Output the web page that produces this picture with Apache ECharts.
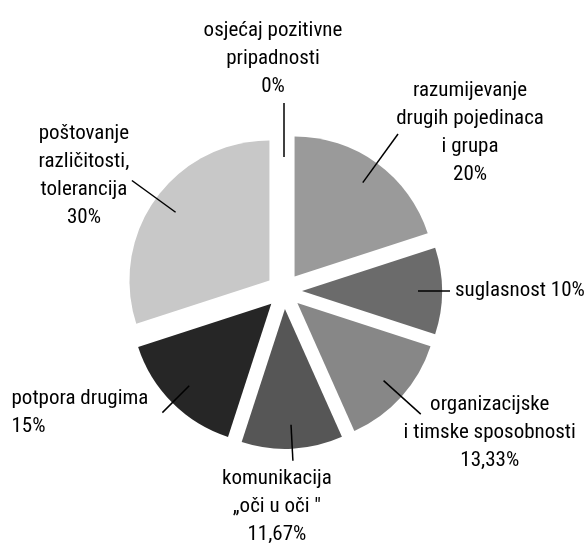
<!DOCTYPE html>
<html>
<head>
<meta charset="utf-8">
<script src="https://cdn.jsdelivr.net/npm/echarts@6/dist/echarts.min.js"></script>
<style>
	html, body { margin: 0; padding: 0; background: #fff; }
	#pie { width: 585px; height: 543px; }
</style>
</head>
<body>
<div id="pie"></div>
<script>
// podaci
var categories = [
	'osjećaj pozitivne\npripadnosti',
	'razumijevanje\ndrugih pojedinaca\ni grupa',
	'suglasnost',
	'organizacijske\ni timske sposobnosti',
	'komunikacija\n„oči u oči "',
	'potpora drugima',
	'poštovanje\nrazličitosti,\ntolerancija'
];
var values = [0, 20, 10, 13.33, 11.67, 15, 30];

// izgled
var colors = ['#b0b0b0', '#9a9a9a', '#6b6b6b', '#878787', '#565656', '#262626', '#c8c8c8'];
var separators = ['\n', '\n', ' ', '\n', '\n', '\n', '\n'];
var lineLength = [54, 60, 32, 50, 36, 38, 54];
// poravnanje i pomak teksta (padding: gore, desno, dolje, lijevo)
var labelAlign = [
	{ align: 'center', va: 'bottom', padding: [0, 12, 2, 0] },
	{ align: 'center', va: 'middle', padding: [0, 0, 2, 134] },
	{ align: 'left', va: 'middle', padding: [0, 0, 0, 0] },
	{ align: 'center', va: 'middle', padding: [38, 0, 0, 128] },
	{ align: 'center', va: 'top', padding: [4, 42, 0, 0] },
	{ align: 'right', va: 'middle', padding: [0, 9, 0, 0], rich: true },
	{ align: 'center', va: 'middle', padding: [0, 86, 9, 0] }
];

var FONT = '"Roboto Condensed", "DejaVu Sans Condensed", "Liberation Sans Narrow", "DejaVu Sans", sans-serif';
var FONT_SIZE = 21;

(function() {
	var pie = echarts.init(document.getElementById('pie'), null, { renderer: 'canvas' });

	function fmt(v) {
		return String(v).replace('.', ',') + '%';
	}

	var visible = [], holder = [];
	for (var i = 0; i < values.length; i++) {
		visible.push({ value: values[i], name: categories[i], selected: true, itemStyle: { color: colors[i] } });
		holder.push({
			value: values[i],
			name: categories[i],
			selected: true,
			labelLine: { length: lineLength[i] },
			label: { padding: labelAlign[i].padding }
		});
	}

	var center = [284, 291];

	var option = {
		animation: false,
		series: [
			{
				type: 'pie',
				center: center,
				radius: 140,
				startAngle: 90,
				selectedMode: 'multiple',
				selectedOffset: 18,
				label: { show: false },
				labelLine: { show: false },
				emphasis: { disabled: true },
				itemStyle: { borderWidth: 0 },
				data: visible
			},
			{
				type: 'pie',
				center: center,
				radius: 116,
				startAngle: 90,
				z: 5,
				selectedMode: 'multiple',
				selectedOffset: 18,
				avoidLabelOverlap: false,
				emphasis: { disabled: true },
				itemStyle: { color: 'rgba(0,0,0,0)', borderWidth: 0 },
				label: {
					show: true,
					position: 'outside',
					color: '#000',
					fontStyle: 'condensed',
					fontFamily: FONT,
					fontSize: FONT_SIZE,
					lineHeight: 28,
					formatter: function(p) {
						var t = p.name + separators[p.dataIndex] + fmt(values[p.dataIndex]);
						if (labelAlign[p.dataIndex].rich) {
							return t.split('\n').map(function(s) { return '{l|' + s + '}'; }).join('\n');
						}
						return t;
					},
					rich: {
						l: { fontStyle: 'condensed', fontFamily: FONT, fontSize: FONT_SIZE, lineHeight: 28, color: '#000', align: 'left' }
					}
				},
				labelLine: {
					show: true,
					length2: 0,
					lineStyle: { color: '#000', width: 1.5 }
				},
				labelLayout: function(params) {
					var la = labelAlign[params.dataIndex];
					return {
						align: la.align,
						verticalAlign: la.va,
						labelLinePoints: params.labelLinePoints
					};
				},
				data: holder
			}
		]
	};

	pie.setOption(option);
})();
</script>
</body>
</html>
